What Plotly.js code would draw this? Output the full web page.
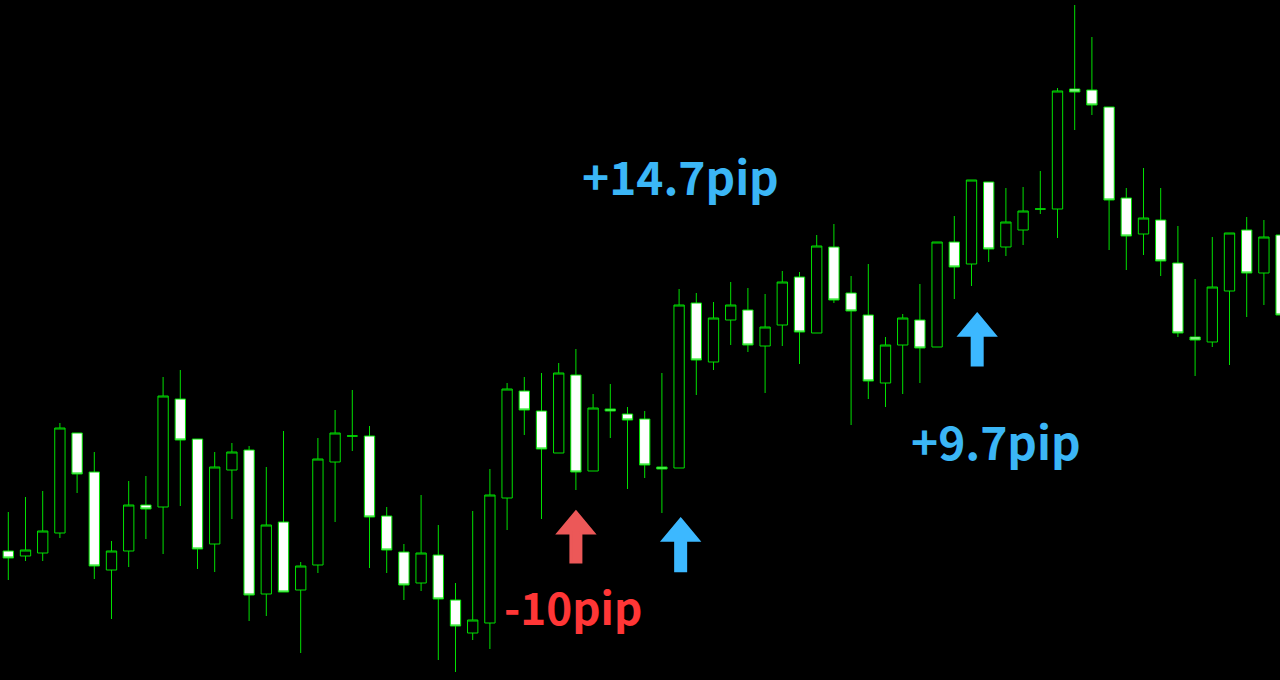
<!DOCTYPE html>
<html>
<head>
<meta charset="utf-8">
<script src="https://cdn.plot.ly/plotly-3.0.1.min.js"></script>
<style>
  html, body { margin: 0; padding: 0; background: #000; }
  #chart { width: 1280px; height: 680px; }
</style>
</head>
<body>
<div id="chart"></div>
<script>
// Bar index (one candle per period)
const bars = Array.from({length: 75}, (_, i) => i);

// Prices (arbitrary chart units)
const openP = [129,124,127,147,247,208,110,129,175,173,281,241,136,210,230,86,158,90,115,218,
  244,244,164,128,97,125,80,47,57,182,289,269,227,305,209,271,266,261,213,212,
  377,318,360,370,334,355,403,347,433,387,365,297,335,360,333,438,416,498,433,450,
  471,471,591,590,573,482,446,460,417,343,338,389,450,407,445];
const highP = [168,183,189,257,247,228,139,199,204,303,310,241,228,237,234,213,249,118,242,270,
  290,254,173,136,185,155,97,169,211,297,303,307,317,331,286,296,273,269,307,391,
  387,378,398,392,386,409,408,445,456,404,416,343,366,396,438,464,500,498,492,493,
  509,592,675,643,573,492,512,492,454,401,443,447,463,460,465];
const lowP = [100,119,119,142,187,101,61,113,141,126,174,111,108,161,59,64,88,27,107,158,
  229,112,107,80,89,20,8,40,31,150,245,161,227,190,209,242,191,202,167,212,
  285,310,335,328,287,334,316,347,377,255,281,273,286,297,333,381,394,418,424,435,
  466,442,550,565,430,410,425,404,343,304,333,315,363,375,365];
const closeP = [122,130,149,252,206,114,129,175,171,284,240,131,213,228,85,155,88,114,221,247,
  244,163,130,95,127,81,54,60,185,291,270,231,307,208,272,269,260,215,211,375,
  320,362,375,335,353,398,348,434,380,369,299,335,362,332,438,413,500,431,458,469,
  471,589,588,575,480,444,462,419,347,340,393,447,407,443,365];

// Text labels
const labelText = ['+14.7pip', '+9.7pip', '-10pip'];
const labelX = [39.08, 57.42, 32.85];
const labelY = [505, 240, 74];
const labelSize = [46, 46, 44];
const labelColor = ['#3BB6F6', '#3BB6F6', '#FF3636'];

// Up-arrows: centre bar position, top and bottom price, colour
const arrowX = [33.0, 39.09, 56.33];
const arrowTop = [169, 161.7, 366.7];
const arrowBottom = [117, 108.3, 314];
const arrowColor = ['#EC5858', '#3CB8FF', '#3CB8FF'];

const GREEN = '#00E000';

const trace = {
  type: 'candlestick',
  x: bars,
  open: openP,
  high: highP,
  low: lowP,
  close: closeP,
  increasing: { line: { color: GREEN, width: 1 }, fillcolor: '#000000' },
  decreasing: { line: { color: GREEN, width: 1 }, fillcolor: '#FFFFFF' },
  whiskerwidth: 0,
  hoverinfo: 'none',
  showlegend: false
};

// arrow geometry in axis units (x: bars, y: price)
const headH = 22, halfW = 17.5 / 17.2, shaftHalf = 5 / 17.2;
const shapes = arrowX.map((cx, k) => {
  const t = arrowTop[k] - 1, b = arrowBottom[k] + 1, hb = t - headH + 1;
  const p = `M ${cx} ${t} L ${cx + halfW} ${hb} L ${cx + shaftHalf} ${hb} L ${cx + shaftHalf} ${b} ` +
            `L ${cx - shaftHalf} ${b} L ${cx - shaftHalf} ${hb} L ${cx - halfW} ${hb} Z`;
  return { type: 'path', xref: 'x', yref: 'y', path: p, fillcolor: arrowColor[k],
           line: { color: arrowColor[k], width: 3 }, layer: 'above' };
});

const annotations = labelText.map((t, k) => ({
  text: t, x: labelX[k], y: labelY[k], xref: 'x', yref: 'y',
  showarrow: false, xanchor: 'center', yanchor: 'middle',
  font: { family: 'Noto Sans CJK JP, Noto Sans, sans-serif', size: labelSize[k], color: labelColor[k], weight: 700 }
}));

const layout = {
  width: 1280, height: 680,
  margin: { l: 0, r: 0, t: 0, b: 0, pad: 0 },
  paper_bgcolor: '#000000', plot_bgcolor: '#000000',
  boxgap: 0.4, boxgroupgap: 0,
  xaxis: { visible: false, range: [-0.4826, 73.936], rangeslider: { visible: false }, fixedrange: true },
  yaxis: { visible: false, range: [0, 680], fixedrange: true },
  shapes: shapes,
  annotations: annotations,
  showlegend: false
};

Plotly.newPlot('chart', [trace], layout, { displayModeBar: false, staticPlot: true });
</script>
</body>
</html>
